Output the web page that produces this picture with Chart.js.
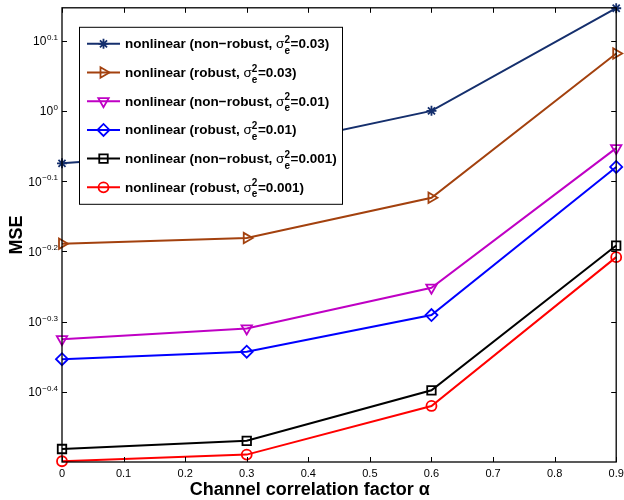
<!DOCTYPE html>
<html>
<head>
<meta charset="utf-8">
<script src="https://cdn.jsdelivr.net/npm/chart.js"></script>
<style>
  html, body { margin: 0; padding: 0; background: #fff; }
  #wrap { width: 624px; height: 500px; }
</style>
</head>
<body>
<div id="wrap"><canvas id="mseChart"></canvas></div>
<script>
// channel correlation factor alpha
var alphaValues = [0, 0.3, 0.6, 0.9];

// MSE values
var nonRobust003 = [0.842, 0.879, 1.000, 1.400];
var robust003 = [0.647, 0.659, 0.752, 1.207];
var nonRobust001 = [0.473, 0.490, 0.560, 0.885];
var robust001 = [0.443, 0.454, 0.512, 0.832];
var nonRobust0001 = [0.330, 0.339, 0.400, 0.643];
var robust0001 = [0.317, 0.324, 0.380, 0.619];

// y axis: ticks at 10^exponent
var yMin = Math.pow(10, -0.5);
var yMax = 1.402;
var yTickExponents = [0.1, 0, -0.1, -0.2, -0.3, -0.4];
var yTickLabels = ['0.1', '0', '\u22120.1', '\u22120.2', '\u22120.3', '\u22120.4'];

// legend text: before sigma, after sigma_e^2
var legendText = [
  ['nonlinear (non\u2212robust, ', '=0.03)'],
  ['nonlinear (robust, ', '=0.03)'],
  ['nonlinear (non\u2212robust, ', '=0.01)'],
  ['nonlinear (robust, ', '=0.01)'],
  ['nonlinear (non\u2212robust, ', '=0.001)'],
  ['nonlinear (robust, ', '=0.001)']
];

var FONT = '"Liberation Sans", Arial, Helvetica, sans-serif';

function pts(arr) {
  return alphaValues.map(function (a, i) { return { x: a, y: arr[i] }; });
}

function series(data, color, style, rot, radius) {
  return {
    data: pts(data),
    borderColor: color,
    backgroundColor: color,
    borderWidth: 2,
    pointStyle: style,
    rotation: rot,
    pointRadius: radius,
    pointBorderWidth: 1.8,
    pointBorderColor: color,
    pointBackgroundColor: 'rgba(0,0,0,0)',
    tension: 0,
    clip: false
  };
}

// inward ticks, box, y labels with exponents, x title, legend
var matlabLook = {
  id: 'matlabLook',
  afterDraw: function (chart) {
    var ctx = chart.ctx, a = chart.chartArea;
    var xs = chart.scales.x, ys = chart.scales.y;
    ctx.save();
    ctx.strokeStyle = '#000';
    ctx.lineWidth = 1.3;
    ctx.strokeRect(a.left, a.top, a.right - a.left, a.bottom - a.top);

    ctx.lineWidth = 1;
    ctx.beginPath();
    xs.ticks.forEach(function (t) {
      var px = Math.round(xs.getPixelForValue(t.value)) + 0.5;
      ctx.moveTo(px, a.bottom); ctx.lineTo(px, a.bottom - 5);
      ctx.moveTo(px, a.top); ctx.lineTo(px, a.top + 5);
    });
    ys.ticks.forEach(function (t) {
      var py = Math.round(ys.getPixelForValue(t.value)) + 0.5;
      ctx.moveTo(a.left, py); ctx.lineTo(a.left + 5, py);
      ctx.moveTo(a.right, py); ctx.lineTo(a.right - 5, py);
    });
    ctx.stroke();

    // y tick labels 10^e
    ctx.fillStyle = '#000';
    ctx.textAlign = 'right';
    ctx.textBaseline = 'alphabetic';
    yTickExponents.forEach(function (e, i) {
      var py = ys.getPixelForValue(Math.pow(10, e));
      var rx = a.left - 4;
      ctx.font = '8px ' + FONT;
      var w = ctx.measureText(yTickLabels[i]).width;
      ctx.fillText(yTickLabels[i], rx, py - 1);
      ctx.font = '12px ' + FONT;
      ctx.fillText('10', rx - w - 0.5, py + 4.5);
    });

    // x axis title
    ctx.font = 'bold 18px ' + FONT;
    ctx.textAlign = 'center';
    ctx.fillText('Channel correlation factor \u03b1', a.left + (a.right - a.left) * 0.447, 495);

    // legend
    var bx = a.left + 17, by = a.top + 19, bw = 263, bh = 177;
    ctx.fillStyle = '#fff';
    ctx.fillRect(bx, by, bw, bh);
    ctx.strokeStyle = '#000';
    ctx.lineWidth = 1;
    ctx.strokeRect(bx + 0.5, by + 0.5, bw, bh);
    chart.data.datasets.forEach(function (ds, i) {
      var y = by + 17 + i * 28.7;
      ctx.strokeStyle = ds.borderColor;
      ctx.lineWidth = 2;
      ctx.beginPath();
      ctx.moveTo(bx + 8, y); ctx.lineTo(bx + 41, y);
      ctx.stroke();
      if (Chart.helpers && Chart.helpers.drawPoint) {
        ctx.lineWidth = ds.pointBorderWidth;
        ctx.fillStyle = ds.pointBackgroundColor;
        Chart.helpers.drawPoint(ctx, {
          pointStyle: ds.pointStyle, rotation: ds.rotation, radius: ds.pointRadius, borderWidth: ds.pointBorderWidth
        }, bx + 24.5, y);
      }
      ctx.fillStyle = '#000';
      ctx.textAlign = 'left';
      var tx = bx + 46;
      ctx.font = 'bold 13.5px ' + FONT;
      ctx.fillText(legendText[i][0], tx, y + 4.5);
      tx += ctx.measureText(legendText[i][0]).width;
      ctx.font = '13.5px ' + FONT;
      ctx.fillText('\u03c3', tx, y + 4.5);
      tx += ctx.measureText('\u03c3').width;
      ctx.font = 'bold 10px ' + FONT;
      ctx.fillText('2', tx, y - 1);
      ctx.fillText('e', tx, y + 10);
      tx += ctx.measureText('2').width + 0.5;
      ctx.font = 'bold 13.5px ' + FONT;
      ctx.fillText(legendText[i][1], tx, y + 4.5);
    });
    ctx.restore();
  }
};

var ctx = document.getElementById('mseChart');
var mseChart = new Chart(ctx, {
  type: 'line',
  data: {
    datasets: [
      series(nonRobust003, '#152f6d', 'star', 0, 5),
      series(robust003, '#a3410e', 'triangle', 90, 6),
      series(nonRobust001, '#bf00c4', 'triangle', 180, 6),
      series(robust001, '#0000ff', 'rectRot', 0, 6),
      series(nonRobust0001, '#000000', 'rect', 0, 6),
      series(robust0001, '#ff0000', 'circle', 0, 5)
    ]
  },
  options: {
    responsive: true,
    maintainAspectRatio: false,
    animation: false,
    devicePixelRatio: 1,
    layout: { padding: { top: 7, right: 7, left: 0, bottom: 0 } },
    plugins: { legend: { display: false }, tooltip: { enabled: false } },
    scales: {
      x: {
        type: 'linear',
        min: 0,
        max: 0.9,
        grid: { display: false, drawTicks: false },
        border: { display: false },
        ticks: { stepSize: 0.1, color: '#000', padding: 5, font: { family: FONT, size: 11 } },
        afterFit: function (s) { s.height = 38; s.paddingLeft = 0; s.paddingRight = 0; }
      },
      y: {
        type: 'logarithmic',
        bounds: 'data',
        min: yMin,
        max: yMax,
        grid: { display: false, drawTicks: false },
        border: { display: false },
        ticks: { display: false },
        afterBuildTicks: function (s) {
          s.min = yMin;
          s.max = yMax;
          s.ticks = yTickExponents.map(function (e) { return { value: Math.pow(10, e) }; });
        },
        title: { display: true, text: 'MSE', color: '#000', font: { family: FONT, size: 18, weight: 'bold' }, padding: { top: 6, bottom: 0 } },
        afterFit: function (s) { s.width = 62; }
      }
    }
  },
  plugins: [matlabLook]
});
</script>
</body>
</html>
